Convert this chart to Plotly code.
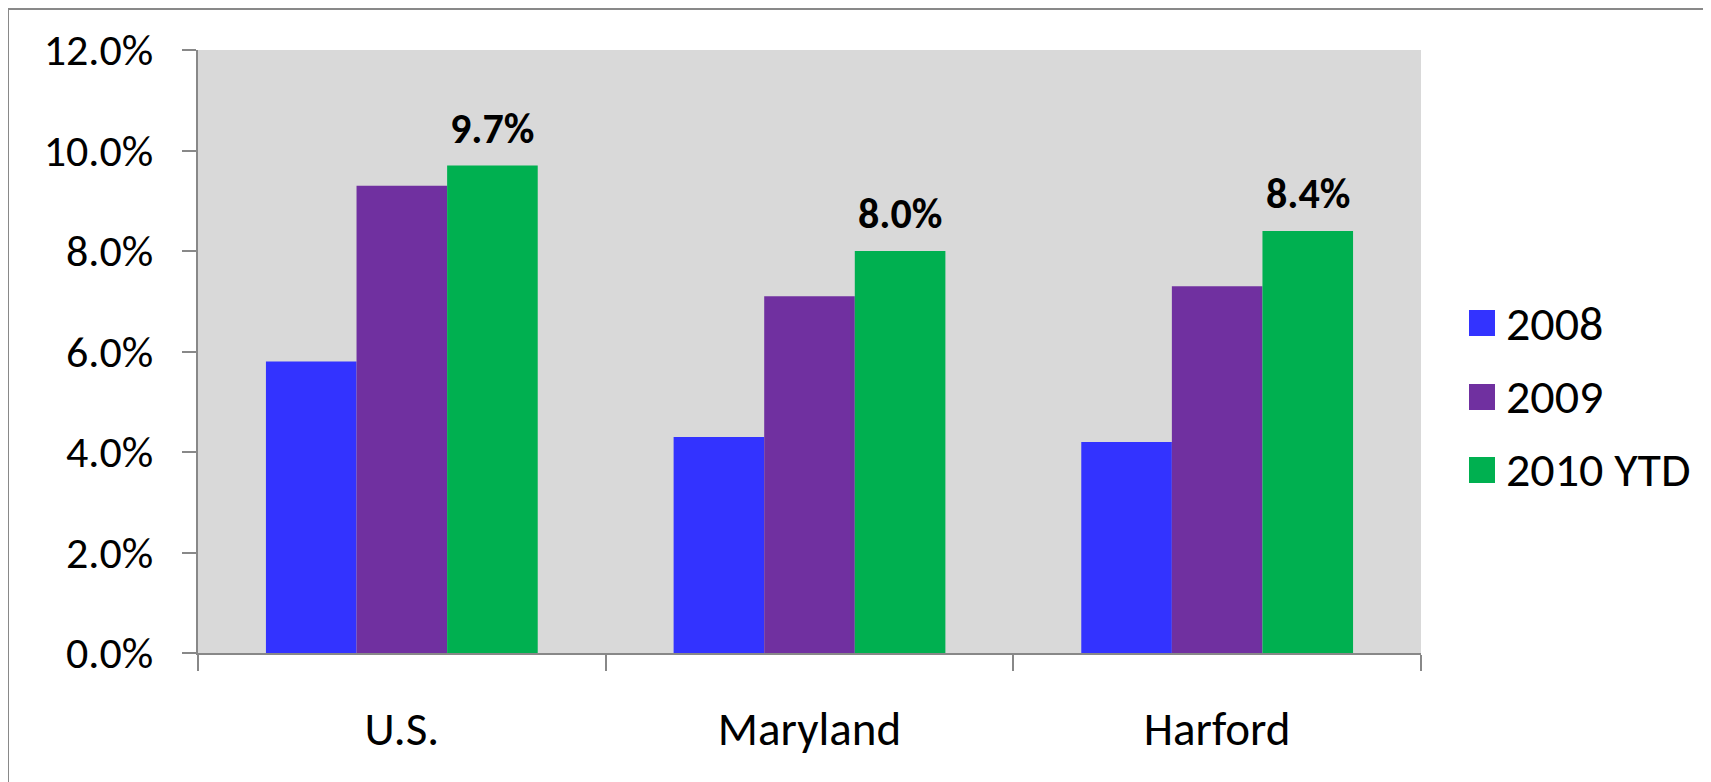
import plotly.graph_objects as go

# ---- data ----
categories = ["U.S.", "Maryland", "Harford"]
series_names = ["2008", "2009", "2010 YTD"]
values_2008 = [0.058, 0.043, 0.042]
values_2009 = [0.093, 0.071, 0.073]
values_2010 = [0.097, 0.080, 0.084]
series_values = [values_2008, values_2009, values_2010]
series_colors = ["#3333FF", "#7030A0", "#00B050"]
y_ticks = [0, 0.02, 0.04, 0.06, 0.08, 0.10, 0.12]

FONT = "Carlito, Lato, 'Liberation Sans', sans-serif"
PAGE_OFF = 8  # default body margin of the html page
W, H = 1711 - PAGE_OFF, 782 - PAGE_OFF
L, R, T, B = 198 - PAGE_OFF, 1421 - PAGE_OFF, 50 - PAGE_OFF, 653 - PAGE_OFF
BARGAP = 1.5 / 4.5

fig = go.Figure()
for name, vals, col in zip(series_names, series_values, series_colors):
    fig.add_trace(go.Bar(
        name=name, x=categories, y=vals,
        marker=dict(color=col, line=dict(width=0)),
        showlegend=False,
    ))

# data labels on the 2010 YTD bars
offset = (1 - BARGAP) / len(series_names)
for i, v in enumerate(values_2010):
    fig.add_annotation(
        x=i + offset, y=v, xref="x", yref="y",
        text="<b>{:.1%}</b>".format(v),
        showarrow=False, yanchor="bottom", yshift=10,
        font=dict(family=FONT, size=42, color="black"),
    )

# custom legend (big square swatches), positions in page pixels
def px_x(p):
    return (p - PAGE_OFF - L) / (R - L)

def px_y(p):
    return (B - (p - PAGE_OFF)) / (B - T)

legend_centers = [323, 397, 470]
for name, col, cy in zip(series_names, series_colors, legend_centers):
    fig.add_shape(type="rect", xref="paper", yref="paper",
                  x0=px_x(1469), x1=px_x(1495), y0=px_y(cy + 13), y1=px_y(cy - 13),
                  fillcolor=col, line=dict(width=0))
    fig.add_annotation(xref="paper", yref="paper", x=px_x(1504), y=px_y(cy),
                       text=name, showarrow=False, xanchor="left", yanchor="middle",
                       font=dict(family=FONT, size=48, color="black"))

# outer border (left & top visible)
fig.add_shape(type="rect", xref="paper", yref="paper",
              x0=px_x(8), x1=px_x(1711 + 20), y0=px_y(782 + 20), y1=px_y(9),
              line=dict(color="#898989", width=2), fillcolor="rgba(0,0,0,0)",
              layer="below")

fig.update_layout(
    width=W, height=H,
    margin=dict(l=L, r=W - R, t=T, b=H - B),
    paper_bgcolor="white",
    plot_bgcolor="#D9D9D9",
    barmode="group",
    bargap=BARGAP, bargroupgap=0,
    font=dict(family=FONT, size=44, color="black"),
    showlegend=False,
)
fig.update_xaxes(
    type="category",
    showline=True, linecolor="#888888", linewidth=2,
    ticks="outside", tickson="boundaries", ticklen=16, tickcolor="#888888", tickwidth=2,
    ticklabelstandoff=34,
    tickfont=dict(family=FONT, size=47, color="black"),
    showgrid=False, zeroline=False,
)
fig.update_yaxes(
    range=[0, 0.12], tickvals=y_ticks, tickformat=".1%",
    showline=True, linecolor="#888888", linewidth=2,
    ticks="outside", ticklen=14, tickcolor="#888888", tickwidth=2,
    ticklabelstandoff=20,
    tickfont=dict(family=FONT, size=44, color="black"),
    showgrid=False, zeroline=False,
)

fig.write_html("out.html")
